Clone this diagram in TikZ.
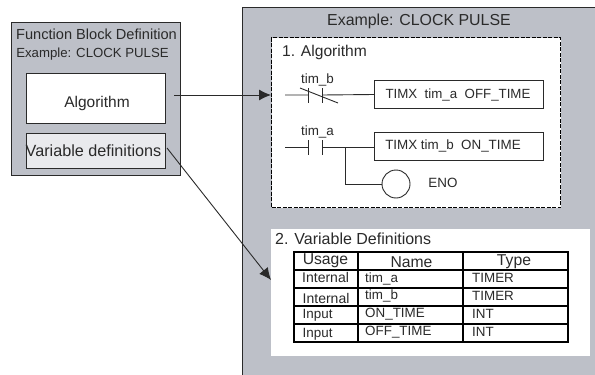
\documentclass[tikz,border=0pt]{standalone}
\usepackage{fontspec}
\setmainfont{Liberation Sans}
\usetikzlibrary{arrows.meta}
\definecolor{panel}{HTML}{BDC0C8}
\definecolor{lite}{HTML}{E9EAED}
\definecolor{ink}{HTML}{2A2A2A}
\tikzset{
  box/.style={draw=ink,line width=1pt,anchor=north west,inner sep=0pt},
  txt/.style={text=ink,inner sep=0pt},
  wire/.style={draw=ink,line width=0.9pt},
  flow/.style={draw=ink,line width=0.9pt,-{Latex[length=12pt,width=11pt]}},
  grid/.style={draw=black,line width=1.25pt}
}
\newcommand{\bx}[6]{\node[box,minimum width=#3pt,minimum height=#4pt,#5] (#6) at (#1,#2) {};}
\begin{document}
\begin{tikzpicture}[x=1pt,y=-1pt]
\useasboundingbox (0,0) rectangle (595,375);
% left panel
\bx{11}{22}{169}{153}{fill=panel}{fbd}
\node[txt,font=\fontsize{14.6}{16}\selectfont] (t1) at (96.5,34) {Function Block Definition};
\node[txt,font=\fontsize{13.2}{15}\selectfont] (t2) at (92.5,54) {Example: CLOCK PULSE};
\bx{26}{73}{139}{50}{fill=white}{alg}
\node[txt,font=\fontsize{15.5}{17}\selectfont] at (97,103.5) {Algorithm};
\bx{26}{133}{139}{35}{fill=lite}{var}
\node[txt,font=\fontsize{16.2}{18}\selectfont] at (93.5,150.5) {Variable definitions};
% right panel
\fill[panel] (242,7) rectangle (595,375);
\coordinate (rtl) at (242,7); \coordinate (rtr) at (595,7); \coordinate (rbl) at (242,375);
\draw[draw=ink,line width=1pt] (rbl) -- (rtl) -- (rtr);
\node[txt,font=\fontsize{15.9}{18}\selectfont] (t3) at (419,21) {Example: CLOCK PULSE};
\node[box,draw=black,dashed,dash pattern=on 4pt off 1.5pt,line width=1.4pt,fill=white,minimum width=289pt,minimum height=170pt] (dash) at (271,37) {};
\node[txt,anchor=west,font=\fontsize{15.6}{18}\selectfont] (t4) at (282,52) {1. Algorithm};
% rung 1
\node[txt,font=\fontsize{13.4}{15}\selectfont] (lb) at (317.5,80) {tim\_b};
\coordinate (r1s) at (285,95);
\coordinate (c1a) at (308,95); \coordinate (c1b) at (322,95);
\bx{374}{80}{169}{28}{fill=white}{tx1}
\node[txt,font=\fontsize{13.3}{15}\selectfont] at (458,95) {TIMX\ \ tim\_a\ \ OFF\_TIME};
\draw[wire] (r1s) -- (c1a) (c1b) -- (tx1.west);
\draw[wire] (308,88) -- (308,103) (322,88) -- (322,103);
\draw[wire] (300,88) -- (338,103);
% rung 2
\node[txt,font=\fontsize{13.4}{15}\selectfont] (la) at (317.5,132) {tim\_a};
\coordinate (r2s) at (285,147);
\coordinate (c2a) at (308,147); \coordinate (c2b) at (322,147);
\coordinate (jn) at (345,147);
\bx{374}{132}{169}{28}{fill=white}{tx2}
\node[txt,font=\fontsize{13.4}{15}\selectfont] at (453,146) {TIMX tim\_b\ \ ON\_TIME};
\draw[wire] (r2s) -- (c2a) (c2b) -- (374,147);
\draw[wire] (308,140) -- (308,155) (322,140) -- (322,155);
\node[draw=ink,line width=0.9pt,circle,minimum size=28pt,inner sep=0pt,fill=white] (coil) at (396,184) {};
\draw[wire] (jn) |- (coil.west);
\node[txt,font=\fontsize{13.4}{15}\selectfont] (eno) at (443,183) {ENO};
% variable definitions
\node[anchor=north west,fill=white,minimum width=319pt,minimum height=127pt,inner sep=0pt] (vd) at (271,229) {};
\node[txt,anchor=west,font=\fontsize{16}{18}\selectfont] (t5) at (275,238.5) {2. Variable Definitions};
\draw[grid] (294,252) rectangle (568,342);
\draw[grid] (294,270) -- (568,270) (294,288) -- (568,288) (294,306) -- (568,306) (294,324) -- (568,324);
\draw[grid] (358,252) -- (358,342) (463,252) -- (463,342);
\def\fa{\fontsize{15.7}{17}\selectfont}
\def\fb{\fontsize{13.4}{15}\selectfont}
\def\fc{\fontsize{14}{15}\selectfont}
\node[txt,font=\fa] at (325.5,261) {Usage};
\node[txt,font=\fa] at (411.5,262) {Name};
\node[txt,font=\fa] at (514,262) {Type};
\node[txt,font=\fc,anchor=west] at (302,277.5) {Internal};
\node[txt,font=\fc,anchor=west] at (302.5,298) {Internal};
\node[txt,font=\fb,anchor=west] at (302.5,315) {Input};
\node[txt,font=\fb,anchor=west] at (302.5,334) {Input};
\node[txt,font=\fb,anchor=west] at (365,279) {tim\_a};
\node[txt,font=\fb,anchor=west] at (365,296) {tim\_b};
\node[txt,font=\fb,anchor=west] at (365,314) {ON\_TIME};
\node[txt,font=\fb,anchor=west] at (365,332) {OFF\_TIME};
\node[txt,font=\fb,anchor=west] at (472,278) {TIMER};
\node[txt,font=\fb,anchor=west] at (472,296) {TIMER};
\node[txt,font=\fb,anchor=west] at (472,314) {INT};
\node[txt,font=\fb,anchor=west] at (472,332) {INT};
% connectors
\coordinate (a1) at (174,95);
\draw[flow] (a1) -- (dash.west |- a1);
\coordinate (a2) at (167,148);
\coordinate (a3) at (271,280);
\draw[flow] (a2) -- (a3);
\end{tikzpicture}
\end{document}
